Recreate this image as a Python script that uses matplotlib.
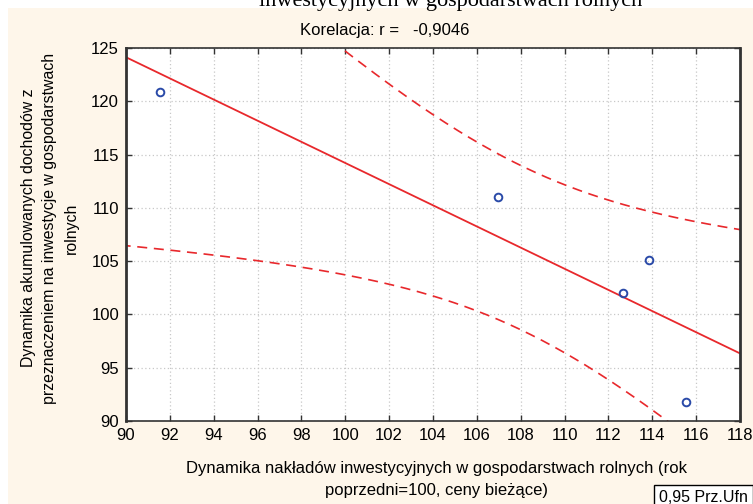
import numpy as np
import matplotlib.pyplot as plt
from matplotlib.patches import Rectangle

plt.rcParams['font.family'] = ['Liberation Sans', 'DejaVu Sans']

# Dynamika nakładów (x) vs dynamika dochodów akumulowanych (y)
naklady = np.array([91.55, 106.95, 112.65, 113.85, 115.55])
dochody = np.array([120.9, 111.0, 102.0, 105.15, 91.75])
korelacja = -0.9046
x_ticks = list(range(90, 119, 2))
y_ticks = list(range(90, 126, 5))

# regresja liniowa i 95% przedział ufności dla średniej
n = len(naklady)
b, a = np.polyfit(naklady, dochody, 1)
reszty = dochody - (a + b * naklady)
s = np.sqrt(np.sum(reszty ** 2) / (n - 2))
t_kryt = 3.1824  # t(0.975, df=3)
sxx = np.sum((naklady - naklady.mean()) ** 2)
xs = np.linspace(89, 119, 300)
ys = a + b * xs
pas = t_kryt * s * np.sqrt(1 / n + (xs - naklady.mean()) ** 2 / sxx)

fig = plt.figure(figsize=(7.53, 5.04), dpi=100)
fig.patch.set_facecolor('white')
fig.patches.append(Rectangle((8 / 753, 0), 1, 1 - 8 / 504, transform=fig.transFigure,
                             facecolor='#fef6ea', edgecolor='none', zorder=-1))

ax = fig.add_axes([126 / 753, 83 / 504, 614 / 753, 373 / 504])
ax.set_facecolor('white')

ax.plot(xs, ys, color='#e8282c', lw=1.3)
ax.plot(xs, ys + pas, color='#e8282c', lw=1.2, ls=(0, (6, 4)))
ax.plot(xs, ys - pas, color='#e8282c', lw=1.2, ls=(0, (6, 4)))
ax.plot(naklady, dochody, 'o', ms=5.5, mfc='none', mec='#2a4aa8', mew=1.4)

ax.set_xlim(90, 118)
ax.set_ylim(90, 125)
ax.set_xticks(x_ticks)
ax.set_yticks(y_ticks)
ax.grid(True, color='#c8c8c8', ls=(0, (1, 2)), lw=0.9)
ax.tick_params(direction='in', top=True, right=True, length=4, width=1,
               labelsize=12, color='#333333', pad=5)
for sp in ax.spines.values():
    sp.set_color('#333333')
    sp.set_linewidth(1.2)
ax.spines['left'].set_linewidth(2)
ax.spines['right'].set_linewidth(2)

# opisy osi (podpis osi X w dwóch wierszach)
fig.text(436 / 753, 1 - 468 / 504,
         'Dynamika nakładów inwestycyjnych w gospodarstwach rolnych (rok',
         ha='center', va='center', fontsize=12)
fig.text(436 / 753, 1 - 490 / 504, 'poprzedni=100, ceny bieżące)',
         ha='center', va='center', fontsize=12)
fig.text(50 / 753, 1 - 228 / 504,
         'Dynamika akumulowanych dochodów z\n'
         'przeznaczeniem na inwestycje w gospodarstwach\nrolnych',
         ha='center', va='center', rotation=90, fontsize=11.4, linespacing=1.5)

fig.text(385 / 753, 1 - 30 / 504, 'Korelacja: r =   ' + f'{korelacja:.4f}'.replace('.', ','),
         ha='center', va='center', fontsize=12)
fig.text(451 / 753, 1 - 6 / 504, 'inwestycyjnych w gospodarstwach rolnych',
         ha='center', va='baseline', fontsize=16, family='Liberation Serif')

fig.text(659 / 753, 7 / 504, '0,95 Prz.Ufn', ha='left', va='center', fontsize=11.5,
         bbox=dict(boxstyle='square,pad=0.3', facecolor='white', edgecolor='black', lw=1))

fig.savefig('out.png', dpi=100)
